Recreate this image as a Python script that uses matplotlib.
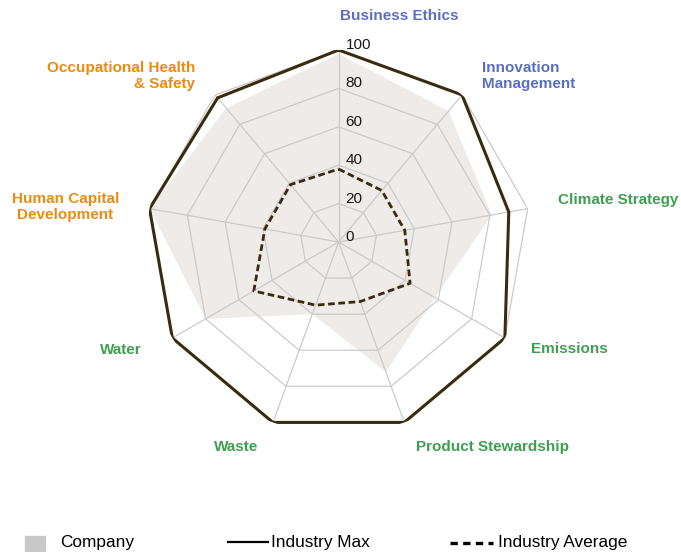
import numpy as np
import matplotlib
matplotlib.use('Agg')
import matplotlib.pyplot as plt
from matplotlib.lines import Line2D
from matplotlib.patches import Rectangle

# ---- data ----
categories = ['Business Ethics', 'Innovation\nManagement', 'Climate Strategy', 'Emissions',
              'Product Stewardship', 'Waste', 'Water', 'Human Capital\nDevelopment',
              'Occupational Health\n& Safety']
company = [98, 89, 81, 58, 72, 40, 80, 100, 91]
industry_max = [100, 100, 90, 100, 100, 100, 100, 100, 98]
industry_avg = [38, 35, 35, 43, 33, 35, 51, 39, 39]
r_ticks = [0, 20, 40, 60, 80, 100]

COL = {'blue': '#5B6FC2', 'green': '#3E9E52', 'orange': '#EC8A12',
       'fill': '#EEEBE8', 'grid': '#CBCBCB', 'line': '#3A2A0E', 'swatch': '#C8C8C8'}
label_colors = [COL['blue'], COL['blue'], COL['green'], COL['green'], COL['green'],
                COL['green'], COL['green'], COL['orange'], COL['orange']]

W, H = 681, 552
# label anchors in pixels (x, y from top), alignment
label_layout = [(340, 16, 'left', 'left'), (482, 76, 'left', 'left'), (558, 200, 'left', 'left'),
                (531, 349, 'left', 'left'), (416, 447, 'left', 'left'), (258, 447, 'right', 'right'),
                (142, 350, 'right', 'right'), (119, 207, 'right', 'center'), (195, 76, 'right', 'right')]


def px(x, y):
    return x / W, 1 - y / H


def closed(vals):
    return list(vals) + [vals[0]]


plt.rcParams.update({'font.family': ['Liberation Sans', 'DejaVu Sans']})
fig = plt.figure(figsize=(W / 100, H / 100), dpi=100, facecolor='white')

cx, cy, R = 338.6, 242, 192
ax = fig.add_axes([(cx - R) / W, 1 - (cy + R) / H, 2 * R / W, 2 * R / H], projection='polar')
ax.set_theta_zero_location('N')
ax.set_theta_direction(-1)
ax.set_ylim(0, 100)
ax.grid(False)
ax.spines['polar'].set_visible(False)
ax.set_xticks([])
ax.set_yticks([])
ax.patch.set_alpha(0)

n = len(categories)
theta = np.linspace(0, 2 * np.pi, n, endpoint=False)
th = closed(list(theta))

# company area
ax.fill(th, closed(company), color=COL['fill'], lw=0, zorder=1)

# polygon grid + spokes
for r in r_ticks[1:]:
    ax.plot(th, [r] * (n + 1), color=COL['grid'], lw=0.9, zorder=2)
for t in theta:
    ax.plot([t, t], [0, 100], color=COL['grid'], lw=0.9, zorder=2)

ax.plot(th, closed(industry_max), color=COL['line'], lw=2.2, zorder=4, solid_joinstyle='miter')
ax.plot(th, closed(industry_avg), color=COL['line'], lw=2.0, ls=(0, (2.4, 1.3)), zorder=4)

for r in r_ticks:
    ax.annotate(str(r), xy=(0, r), xytext=(7, 5), textcoords='offset pixels',
                ha='left', va='center', fontsize=11, color='#1a1a1a', zorder=5)

for name, c, (x, y, ha, ma) in zip(categories, label_colors, label_layout):
    fig.text(*px(x, y), name, ha=ha, va='center', multialignment=ma, color=c,
             fontsize=11, fontweight='bold', linespacing=1.1)

# legend (bottom row, partly cut off like the reference)
fig.add_artist(Rectangle(px(25, 555), 20 / W, 19 / H, color=COL['swatch'], transform=fig.transFigure))
fig.text(*px(60, 543), 'Company', ha='left', va='center', fontsize=12.4)
fig.add_artist(Line2D([228 / W, 268 / W], [1 - 542 / H] * 2, color='black', lw=1.6, transform=fig.transFigure))
fig.text(*px(271, 543), 'Industry Max', ha='left', va='center', fontsize=12.4)
fig.add_artist(Line2D([450 / W, 493 / W], [1 - 543 / H] * 2, color='black', lw=2.4, ls=(0, (2.2, 1.6)),
                      transform=fig.transFigure))
fig.text(*px(498, 543), 'Industry Average', ha='left', va='center', fontsize=12.4)

fig.savefig('out.png', dpi=100)
